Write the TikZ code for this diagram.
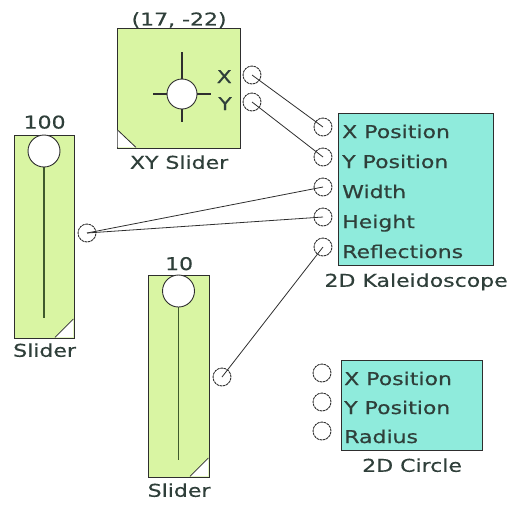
\documentclass[tikz,border=0pt]{standalone}
\usepackage{fontspec}
\setmainfont[FakeStretch=1.25,FakeBold=0.5]{DejaVu Sans}
\usetikzlibrary{positioning}
\definecolor{Lime}{HTML}{D9F5A3}
\definecolor{Aqua}{HTML}{8FEBDC}
\definecolor{Edge}{HTML}{2E2E2E}
\definecolor{Ink}{HTML}{2F3F3A}
\definecolor{Track}{HTML}{3F5A2C}
\tikzset{
  wire/.style={draw=Edge,line width=0.8pt},
  greenbox/.style={draw=Edge,fill=Lime,line width=1.2pt,anchor=north west,inner sep=0pt},
  aquabox/.style={draw=Edge,fill=Aqua,line width=1.2pt,anchor=north west,inner sep=0pt},
  port/.style={circle,draw=Edge,fill=white,line width=0.9pt,dash pattern=on 2.6pt off 0.7pt,minimum size=18pt,inner sep=0pt},
  knob/.style={circle,draw=Edge,fill=white,line width=0.9pt,minimum size=32pt,inner sep=0pt},
  txt/.style={font=\fontsize{17.6pt}{20pt}\selectfont,text=Ink,inner sep=0pt},
  pin/.style={txt,anchor=base west},
  caption/.style={txt}
}
\begin{document}
\begin{tikzpicture}[x=1pt,y=-1pt]
  \useasboundingbox (0,0) rectangle (508,504);
  % XY slider
  \node[greenbox,minimum width=123pt,minimum height=120pt] (xy) at (117,28) {};
  \fill[white] (117.6,130) -- (117.6,147.4) -- (136,147.4) -- cycle;
  \draw[Edge,line width=0.8pt] (117.6,130) -- (136,147.4);
  \draw[Edge,line width=1.2pt] (182,52) -- (182,122) (153,94) -- (211,94);
  \node[knob,minimum size=30pt] (cross) at (182,94) {};
  \node[caption,above=0pt of xy] (xyval) {(17, -22)};
  \node[caption,below=6pt of xy] (xyname) {XY Slider};
  \node[txt,anchor=base east] (xlbl) at (232,83) {X};
  \node[txt,anchor=base east] (ylbl) at (232,110) {Y};
  \node[port] (xout) at (252,75) {};
  \node[port] (yout) at (252,102) {};
  % first slider
  \node[greenbox,minimum width=60pt,minimum height=203pt] (s1) at (14,135) {};
  \fill[white] (73.4,319) -- (73.4,337.4) -- (55,337.4) -- cycle;
  \draw[Edge,line width=0.8pt] (73.4,319) -- (55,337.4);
  \draw[Track,line width=1.2pt] (44,160) -- (44,318);
  \node[knob] (k1) at (44,151) {};
  \node[caption,above=6pt of s1] (s1val) {100};
  \node[caption,below=4pt of s1] (s1name) {Slider};
  \node[port] (s1out) at (87,233) {};
  % second slider
  \node[greenbox,minimum width=61pt,minimum height=202pt] (s2) at (148,275) {};
  \fill[white] (208.4,458) -- (208.4,476.4) -- (190,476.4) -- cycle;
  \draw[Edge,line width=0.8pt] (208.4,458) -- (190,476.4);
  \draw[Track,line width=1.2pt] (178.5,300) -- (178.5,460);
  \node[knob] (k2) at (178.5,291) {};
  \node[caption,above=4.5pt of s2] (s2val) {10};
  \node[caption,below=5pt of s2] (s2name) {Slider};
  \node[port] (s2out) at (222,377) {};
  % 2D Kaleidoscope
  \node[aquabox,minimum width=155pt,minimum height=152pt] (kal) at (338,113) {};
  \node[caption,below=7pt of kal] (kalname) {2D Kaleidoscope};
  \node[pin] at (342,138) {X Position};
  \node[pin] at (342,168) {Y Position};
  \node[pin] at (342,198) {Width};
  \node[pin] at (342,228) {Height};
  \node[pin] at (342,258) {Reflections};
  \node[port] (kx) at (323,127) {};
  \node[port] (ky) at (323,157) {};
  \node[port] (kw) at (323,187) {};
  \node[port] (kh) at (323,217) {};
  \node[port] (kr) at (323,247) {};
  % 2D Circle
  \node[aquabox,minimum width=141pt,minimum height=90pt] (circ) at (341,360) {};
  \node[caption,below=7pt of circ] (circname) {2D Circle};
  \node[pin] at (344,385) {X Position};
  \node[pin] at (344,414) {Y Position};
  \node[pin] at (344,443) {Radius};
  \node[port] (cx) at (322,373) {};
  \node[port] (cy) at (322,402) {};
  \node[port] (cr) at (322,431) {};
  % wires
  \draw[wire] (xout.center) -- (kx.center);
  \draw[wire] (yout.center) -- (ky.center);
  \draw[wire] (s1out.center) -- (kw.center);
  \draw[wire] (s1out.center) -- (kh.center);
  \draw[wire] (s2out.center) -- (kr.center);
\end{tikzpicture}
\end{document}
